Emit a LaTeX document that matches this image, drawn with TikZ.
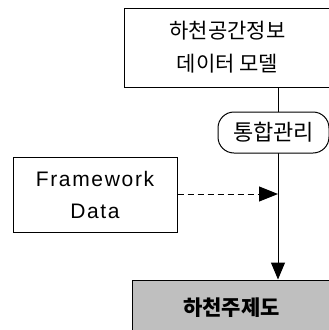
\documentclass[tikz,border=0pt]{standalone}
\usepackage{fontspec}
\setmainfont{Liberation Sans}
\newfontfamily\kr{Noto Sans CJK KR}
\usepackage{tikz}
\usetikzlibrary{positioning,calc,arrows.meta}

\begin{document}
\begin{tikzpicture}[x=1pt,y=-1pt,line width=1pt]
      \useasboundingbox (0,0) rectangle (329,330);
      \node[draw,minimum width=207pt,minimum height=79pt,align=center,font=\kr\fontsize{21}{33}\selectfont] (model) at (227.5,47.5) {하천공간정보\\데이터 모델};
      \node[draw,minimum width=164pt,minimum height=75pt,align=center,font=\addfontfeatures{LetterSpace=8}\fontsize{21}{32}\selectfont] (frame) at (95,194.5) {Framework\\Data};
      \node[draw,fill=black!25,minimum width=199pt,minimum height=55pt,font=\kr\bfseries\fontsize{21}{21}\selectfont] (theme) at (231.5,307.5) {하천주제도};
      \coordinate (join) at (278,194);

      \draw[-{Triangle[length=17pt,width=14pt]}] (model.south -| join) -- (theme.north -| join);
      \node[draw,fill=white,rounded corners=16pt,minimum width=111pt,minimum height=41pt,inner sep=0pt,font=\kr\fontsize{22}{22}\selectfont] (merge) at (273.5,132.5) {통합관리};
      \draw[dashed,dash pattern=on 6pt off 4pt,-{Triangle[length=19pt,width=15pt]}] (frame.east |- join) -- (join);
    \end{tikzpicture}
\end{document}
